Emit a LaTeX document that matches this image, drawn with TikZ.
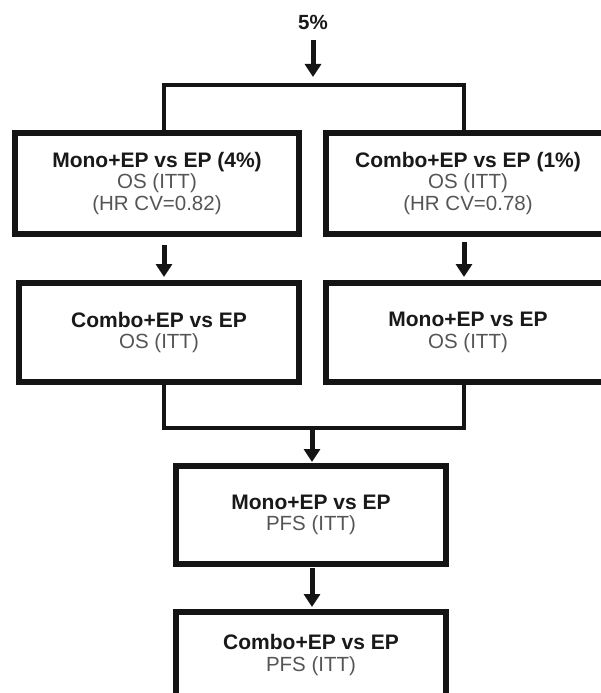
\documentclass[tikz,border=0pt]{standalone}
\usepackage{fontspec}
\setmainfont{Liberation Sans}
\usetikzlibrary{arrows.meta}
\definecolor{ink}{RGB}{20,20,20}
\definecolor{txtb}{RGB}{25,25,25}
\definecolor{txtg}{RGB}{85,85,85}
\tikzset{
  box/.style={draw=ink, line width=6pt, fill=white, align=center, inner sep=0pt,
    text=txtg, font=\fontsize{20.5}{21.5}\selectfont},
  conn/.style={draw=ink, line width=4.5pt},
  arr/.style={draw=ink, line width=5pt, -{Triangle[length=13pt,width=16pt]}},
}
\newcommand{\ttl}[1]{{\fontsize{21}{21.5}\selectfont\bfseries\color{txtb}#1}}
\begin{document}
\begin{tikzpicture}[x=1pt, y=-1pt]
\path[use as bounding box, clip] (0,0) rectangle (601,693);
% named helper coordinates
\coordinate (xl) at (164,0);
\coordinate (xr) at (464,0);
\coordinate (xm) at (312,0);
\coordinate (a1) at (313,77);
\coordinate (jt) at (313,85);
\coordinate (jm) at (312,428);
% nodes
\node[font=\fontsize{20.5}{21.5}\selectfont\bfseries, text=txtb, text height=14pt, text depth=0pt, inner sep=0pt] (pct) at (313,23) {5\%};
\node[box, minimum width=284pt, minimum height=101pt] (b1) at (157,183.5)
  {\ttl{Mono+EP vs EP (4\%)}\\OS (ITT)\\(HR CV=0.82)};
\node[box, minimum width=284pt, minimum height=101pt] (b2) at (468,183.5)
  {\ttl{Combo+EP vs EP (1\%)}\\OS (ITT)\\(HR CV=0.78)};
\node[box, minimum width=280pt, minimum height=99pt] (b3) at (159,332.5)
  {\ttl{Combo+EP vs EP}\\OS (ITT)};
\node[box, minimum width=284pt, minimum height=99pt] (b4) at (468,332.5)
  {\ttl{Mono+EP vs EP}\\OS (ITT)};
\node[box, minimum width=270pt, minimum height=98pt] (b5) at (311,515)
  {\ttl{Mono+EP vs EP}\\PFS (ITT)};
\node[box, minimum width=270pt, minimum height=86pt] (b6) at (311,655)
  {\ttl{Combo+EP vs EP}\\PFS (ITT)};
% connectors
\draw[arr, shorten <=10pt] (pct.south) -- (a1);
\draw[conn] (b1.north -| xl) |- (jt) -| (b2.north -| xr);
\draw[arr, shorten <=8pt, shorten >=3pt] (b1.south -| xl) -- (b3.north -| xl);
\draw[arr, shorten <=5pt, shorten >=3pt] (b2.south -| xr) -- (b4.north -| xr);
\draw[conn] (b3.south -| xl) |- (jm) -| (b4.south -| xr);
\draw[arr, shorten >=1pt] (jm) -- (b5.north -| jm);
\draw[arr, shorten <=1pt, shorten >=2pt] (b5.south -| xm) -- (b6.north -| xm);
\end{tikzpicture}
\end{document}
